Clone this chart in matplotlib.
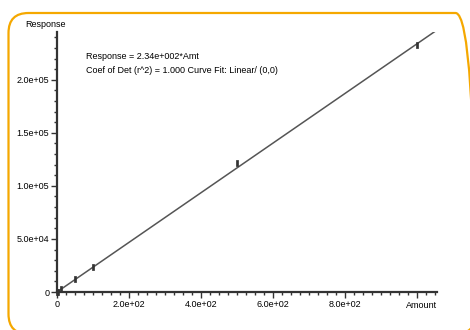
import matplotlib
matplotlib.use("Agg")
import matplotlib.pyplot as plt
from matplotlib.patches import FancyBboxPatch
from matplotlib.ticker import MultipleLocator, FixedLocator, FixedFormatter

plt.rcParams['font.family'] = ['Liberation Sans', 'DejaVu Sans']

amounts = [0.5, 2, 10, 50, 100, 500, 1000]
responses = [117, 470, 2400, 11800, 23500, 122000, 233000]
slope = 234.0
x_ticks = [0, 200, 400, 600, 800]
x_tick_labels = ["0", "2.0e+02", "4.0e+02", "6.0e+02", "8.0e+02"]
y_ticks = [0, 50000, 100000, 150000, 200000]
y_tick_labels = ["0", "5.0e+04", "1.0e+05", "1.5e+05", "2.0e+05"]
eq_line1 = "Response = 2.34e+002*Amt"
eq_line2 = "Coef of Det (r^2) = 1.000 Curve Fit: Linear/ (0,0)"

W, H = 470, 330
fig = plt.figure(figsize=(W / 100, H / 100), dpi=100)

# orange rounded frame (pixel coordinates)
frame = FancyBboxPatch((8.5, -4), 467, 321,
                       boxstyle="round,pad=0,rounding_size=20",
                       transform=None, fill=False,
                       edgecolor="#F5A800", linewidth=1.6, clip_on=False)
fig.patches.append(frame)

ax = fig.add_axes([57 / W, (H - 292) / H, (437 - 57) / W, (292 - 32) / H])
xmax, ymax = 1055, 245000
ax.set_xlim(0, xmax)
ax.set_ylim(0, ymax)

ax.plot([0, xmax], [0, slope * xmax], color="#555555", linewidth=1.1, zorder=2)
rect = [(-0.45, -1.0), (0.45, -1.0), (0.45, 1.0), (-0.45, 1.0), (-0.45, -1.0)]
ax.plot(amounts, responses, linestyle="none", marker=rect, markersize=4.5,
        color="#333333", markeredgewidth=0.5, zorder=3, clip_on=False)

for s in ["top", "right"]:
    ax.spines[s].set_visible(False)
ax.spines["left"].set_color("#333333")
ax.spines["bottom"].set_color("#333333")
ax.spines["left"].set_linewidth(1.6)
ax.spines["bottom"].set_linewidth(1.6)

ax.xaxis.set_major_locator(FixedLocator(x_ticks + [1000]))
ax.xaxis.set_major_formatter(FixedFormatter(x_tick_labels + [""]))
ax.xaxis.set_minor_locator(MultipleLocator(25))
ax.yaxis.set_major_locator(FixedLocator(y_ticks))
ax.yaxis.set_major_formatter(FixedFormatter(y_tick_labels))
ax.yaxis.set_minor_locator(MultipleLocator(10000))
ax.tick_params(axis="both", which="major", length=4, width=1, color="#333333",
               labelsize=6.5, pad=1.5, direction="out")
ax.tick_params(axis="both", which="minor", length=2.5, width=1, color="#333333")

ax.text(1.0, -0.035, "Amount", transform=ax.transAxes, ha="right", va="top",
        fontsize=6.5)
ax.text(-0.03, 1.01, "Response", transform=ax.transAxes, ha="center", va="bottom",
        fontsize=6.5)
ax.text(0.075, 0.905, eq_line1, transform=ax.transAxes, ha="left", va="center",
        fontsize=6.5)
ax.text(0.075, 0.852, eq_line2, transform=ax.transAxes, ha="left", va="center",
        fontsize=6.5)

fig.savefig("out.png", dpi=100)
